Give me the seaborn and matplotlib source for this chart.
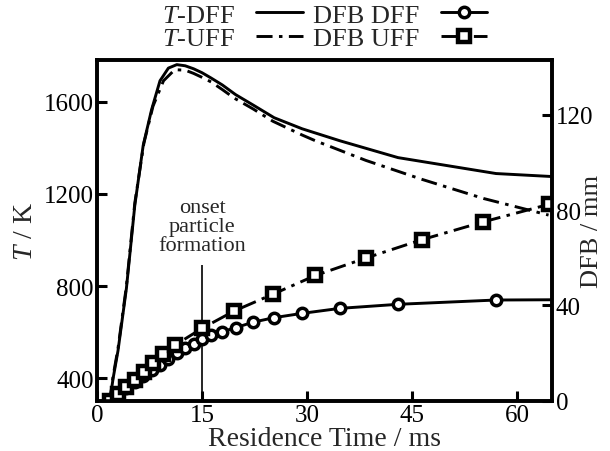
#!/usr/bin/env python3
"""
Flame temperature and DFB vs residence time, DFF vs UFF.
Left axis: T / K (lines), right axis: DFB / mm (lines with markers).
"""

import matplotlib
matplotlib.use("Agg")
import matplotlib.pyplot as plt
import numpy as np
import pandas as pd
import seaborn as sns

# Temperature, DFF
T_DFF_MS = [1.8, 2.3, 3.0, 4.2, 5.4, 6.6, 7.8, 9.0, 10.2, 11.4, 12.6, 13.8,
            15.0, 16.3, 17.9, 19.8, 22.3, 25.3, 29.3, 34.7, 43.0, 57.0, 65.0]
T_DFF_K = [295, 400, 520, 790, 1150, 1410, 1565, 1690, 1745, 1760, 1755, 1742,
           1725, 1702, 1672, 1630, 1585, 1530, 1482, 1430, 1357, 1288, 1275]

# Temperature, UFF
T_UFF_MS = [1.8, 2.3, 3.0, 4.2, 5.4, 6.7, 8.0, 9.5, 11.1, 12.6, 13.8, 15.0,
            16.3, 17.9, 19.6, 22.3, 25.1, 29.3, 31.2, 38.4, 46.4, 55.2, 64.5]
T_UFF_K = [295, 410, 530, 800, 1160, 1420, 1580, 1690, 1738, 1736, 1722, 1705,
           1685, 1652, 1615, 1568, 1515, 1455, 1430, 1345, 1263, 1180, 1108]

# DFB, DFF (circles)
DFB_DFF_MS = [1.8, 3.0, 4.2, 5.4, 6.6, 7.8, 9.0, 10.2, 11.4, 12.6, 13.8, 15.0,
              16.3, 17.9, 19.8, 22.3, 25.3, 29.3, 34.7, 43.0, 57.0, 72.0]
DFB_DFF_MM = [0.0, 2.6, 5.2, 7.8, 10.3, 12.8, 15.2, 17.6, 19.9, 22.0, 24.0, 25.8,
              27.5, 29.0, 30.7, 33.0, 34.9, 36.7, 38.8, 40.5, 42.3, 42.5]

# DFB, UFF (squares)
DFB_UFF_MS = [1.8, 3.0, 4.2, 5.4, 6.7, 8.0, 9.5, 11.1, 15.0, 19.6, 25.1, 31.2,
              38.4, 46.4, 55.2, 64.5]
DFB_UFF_MM = [0.0, 2.9, 5.8, 8.6, 12.0, 16.0, 19.6, 23.3, 30.4, 37.7, 44.7, 52.6,
              59.9, 67.6, 75.1, 82.4]

ONSET_MS = 15.0
ONSET_TOP_K = 890
ONSET_TEXT = "onset\nparticle\nformation"

X_TICKS = [0, 15, 30, 45, 60]
T_TICKS = [400, 800, 1200, 1600]
DFB_TICKS = [0, 40, 80, 120]

DASHDOT = (0, (5.5, 2.2, 1.2, 2.2))


def main():
    sns.set_theme(style="ticks")
    plt.rcParams["font.family"] = ["Liberation Serif", "DejaVu Serif"]
    plt.rcParams["mathtext.fontset"] = "custom"
    plt.rcParams["mathtext.rm"] = "Liberation Serif"
    plt.rcParams["mathtext.it"] = "Liberation Serif:italic"

    fs_tick = 18
    fs_label = 20
    fs_leg = 19
    fs_note = 16
    lw = 2.1

    fig = plt.figure(figsize=(6.10, 4.52), dpi=100)
    ax = fig.add_axes([0.159, 0.111, 0.746, 0.754])
    ax2 = ax.twinx()

    df_t_dff = pd.DataFrame({"ms": T_DFF_MS, "val": T_DFF_K})
    df_t_uff = pd.DataFrame({"ms": T_UFF_MS, "val": T_UFF_K})
    df_d_dff = pd.DataFrame({"ms": DFB_DFF_MS, "val": DFB_DFF_MM})
    df_d_uff = pd.DataFrame({"ms": DFB_UFF_MS, "val": DFB_UFF_MM})

    sns.lineplot(data=df_t_dff, x="ms", y="val", ax=ax, color="black", lw=lw,
                 sort=False, estimator=None, legend=False)
    sns.lineplot(data=df_t_uff, x="ms", y="val", ax=ax, color="black", lw=lw,
                 linestyle=DASHDOT, sort=False, estimator=None, legend=False)

    sns.lineplot(data=df_d_dff, x="ms", y="val", ax=ax2, color="black", lw=lw,
                 marker="o", markersize=7.5, markerfacecolor="white",
                 markeredgecolor="black", markeredgewidth=2.5,
                 sort=False, estimator=None, legend=False)
    sns.lineplot(data=df_d_uff, x="ms", y="val", ax=ax2, color="black", lw=lw,
                 linestyle=DASHDOT, marker="s", markersize=8,
                 markerfacecolor="white", markeredgecolor="black",
                 markeredgewidth=3.2, sort=False, estimator=None, legend=False)

    # onset of particle formation
    ax.vlines(ONSET_MS, 0, ONSET_TOP_K, color="black", lw=1.2)
    ax.text(ONSET_MS, ONSET_TOP_K + 45, ONSET_TEXT, ha="center", va="bottom",
            fontsize=fs_note, linespacing=1.0)

    ax.set_xlim(0, 65)
    ax.set_ylim(303, 1780)
    ax2.set_ylim(0, 143)
    ax.set_xticks(X_TICKS)
    ax.set_yticks(T_TICKS)
    ax2.set_yticks(DFB_TICKS)

    ax.set_xlabel("Residence Time / ms", fontsize=fs_label, labelpad=0)
    ax.set_ylabel("$T$ / K", fontsize=fs_label)
    ax2.set_ylabel("DFB / mm", fontsize=19)
    ax.yaxis.set_label_coords(-0.13, 0.5)
    ax2.yaxis.set_label_coords(1.0637, 0.5)

    for a in (ax, ax2):
        a.tick_params(direction="in", length=7, width=2.2, labelsize=fs_tick,
                      pad=2.5, color="black", labelcolor="black")
        for s in a.spines.values():
            s.set_linewidth(2.6)
            s.set_color("black")
    ax.tick_params(axis="y", right=False)
    ax2.tick_params(axis="y", left=False)

    # legend above the axes, labels before handles
    h_t = ax.get_lines()
    h_d = ax2.get_lines()
    handles = [h_t[0], h_t[1], h_d[0], h_d[1]]
    labels = ["$T$-DFF", "$T$-UFF", "DFB DFF", "DFB UFF"]
    fig.legend(handles, labels, loc="lower center",
               bbox_to_anchor=(0.532, 0.855), ncol=2, frameon=False,
               markerfirst=False, fontsize=fs_leg, handlelength=1.75,
               handletextpad=0.8, columnspacing=0.4, labelspacing=0.0,
               borderpad=0.05, numpoints=1)

    fig.savefig("out.png", dpi=100, facecolor="white")
    plt.close(fig)


if __name__ == "__main__":
    main()
